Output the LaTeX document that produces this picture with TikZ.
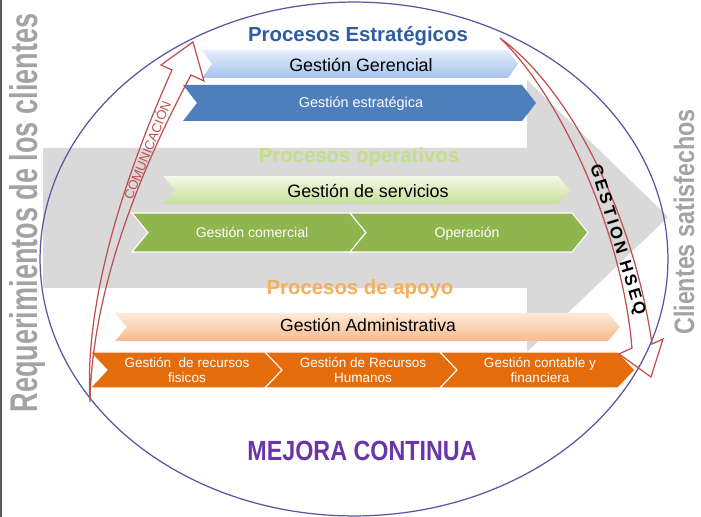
\documentclass[tikz,border=0pt]{standalone}
\usepackage{fontspec}
\setmainfont{Liberation Sans}
\usetikzlibrary{calc}

\definecolor{estrblue}{HTML}{2E5DA8}
\definecolor{opgreen}{HTML}{C4DE8C}
\definecolor{apoyoorange}{HTML}{F4B05E}
\definecolor{mejorapurple}{HTML}{6A35A8}
\definecolor{sidegray}{HTML}{A3A3A3}
\definecolor{flowred}{HTML}{C0504D}
\definecolor{ringcol}{HTML}{5A55A0}
\definecolor{bandgray}{HTML}{D9D9D9}
\definecolor{gerTop}{HTML}{E6EFFB}
\definecolor{gerBot}{HTML}{A4C1EA}
\definecolor{estrBar}{HTML}{4F7EBD}
\definecolor{servTop}{HTML}{F3F9E6}
\definecolor{servBot}{HTML}{C4DF98}
\definecolor{opBar}{HTML}{8EB54E}
\definecolor{admTop}{HTML}{FDEADB}
\definecolor{admBot}{HTML}{F8BA8A}
\definecolor{apBar}{HTML}{E46C0A}

% style, left, right, top, bottom, depth
\newcommand{\chevbar}[6]{%
  \path[#1] (#2,#4) -- (#3,#4) -- (#3+#6,{(#4+#5)/2}) -- (#3,#5) -- (#2,#5)
    -- (#2+#6,{(#4+#5)/2}) -- cycle;}

\begin{document}
\begin{tikzpicture}[x=0.02cm, y=-0.02cm,
  lbl/.style={font=\fontsize{10.2}{12}\selectfont, text=black, anchor=base},
  wlbl/.style={font=\fontsize{8}{10}\selectfont, text=white, anchor=base},
  olbl/.style={font=\fontsize{7.7}{9}\selectfont, text=white, align=center},
  title/.style={font=\bfseries\fontsize{11.6}{14}\selectfont, anchor=base},
  side/.style={font=\bfseries, text=sidegray, rotate=90},
  flow/.style={draw=flowred, line width=0.7pt, line join=miter}
]
\useasboundingbox (0,0) rectangle (701,517);
\fill[white] (0,0) rectangle (701,517);
\draw[gray!70!black, line width=0.6pt] (1,0) -- (1,517);

\fill[bandgray] (43,148) -- (527,148) -- (527,80) -- (668,217) -- (527,352)
  -- (527,288) -- (43,288) -- cycle;
\draw[ringcol, line width=0.7pt] (354,259) ellipse [x radius=6.28cm, y radius=5.14cm];

\chevbar{top color=gerTop, bottom color=gerBot}{202}{508}{50}{78}{10}
\chevbar{fill=estrBar}{183}{522}{85}{121}{14}
\chevbar{top color=servTop, bottom color=servBot}{163}{558}{176}{204}{12}
\chevbar{fill=opBar, draw=white, line width=0.6pt}{132}{350}{213}{252}{16}
\chevbar{fill=opBar, draw=white, line width=0.6pt}{350}{572}{213}{252}{16}
\chevbar{top color=admTop, bottom color=admBot}{115}{608}{313}{341}{12}
\chevbar{fill=apBar, draw=white, line width=0.6pt}{90}{265}{352}{388}{17}
\chevbar{fill=apBar, draw=white, line width=0.6pt}{265}{440}{352}{388}{17}
\chevbar{fill=apBar, draw=white, line width=0.6pt}{440}{618}{352}{388}{17}

\node[title, text=estrblue] (tEstr) at (358,42) {Procesos Estratégicos};
\node[title, text=opgreen] (tOper) at (359,163) {Procesos operativos};
\node[title, text=apoyoorange] (tApoyo) at (360,295) {Procesos de apoyo};

\node[lbl] (gerencial) at (361,72) {Gestión Gerencial};
\node[wlbl, font=\fontsize{8.2}{10}\selectfont] (estrategica) at (361,108) {Gestión estratégica};
\node[lbl] (servicios) at (368,198) {Gestión de servicios};
\node[wlbl] (comercial) at (252,238) {Gestión comercial};
\node[wlbl] (operacion) at (467,238) {Operación};
\node[lbl, font=\fontsize{10}{12}\selectfont] (admin) at (368,332) {Gestión Administrativa};
\node[olbl] (fisicos) at (187,370) {Gestión\ \ de recursos\\fisicos};
\node[olbl] (humanos) at (363,370) {Gestión de Recursos\\Humanos};
\node[olbl] (contable) at (540,370) {Gestión contable y\\financiera};

\node[anchor=base, text=mejorapurple, font=\bfseries\fontsize{15.8}{18}\selectfont] (mejora)
  at (362,460) {\scalebox{0.84}[1]{MEJORA CONTINUA}};

\draw[flow] (90,402) .. controls (84,300) and (125,175) .. (172,70) -- (161,65) -- (193,42)
  -- (204,81) -- (191,75) .. controls (140,170) and (92,290) .. (90,402) -- cycle;
\node[rotate=68, text=flowred, font=\fontsize{7.5}{9}\selectfont, inner sep=0pt]
  (comunica) at (146.5,150) {COMUNICACIÓN};

\draw[flow] (500,38) .. controls (560,95) and (622,230) .. (632,348) -- (619,354) -- (651,377)
  -- (663,339) -- (652,344) .. controls (632,205) and (565,85) .. (500,38) -- cycle;
\node[rotate=-73, inner sep=0pt,
  font=\bfseries\fontsize{9.5}{11}\selectfont\addfontfeature{LetterSpace=18}]
  (hseq) at (617,240) {GESTION HSEQ};

\node[side, font=\bfseries\fontsize{22}{26}\selectfont] (req) at (28,213)
  {\scalebox{0.70}[1]{Requerimientos de los clientes}};
\node[side, font=\bfseries\fontsize{16}{19}\selectfont] (satisf) at (684,222)
  {\scalebox{0.83}[1]{Clientes satisfechos}};
\end{tikzpicture}
\end{document}
